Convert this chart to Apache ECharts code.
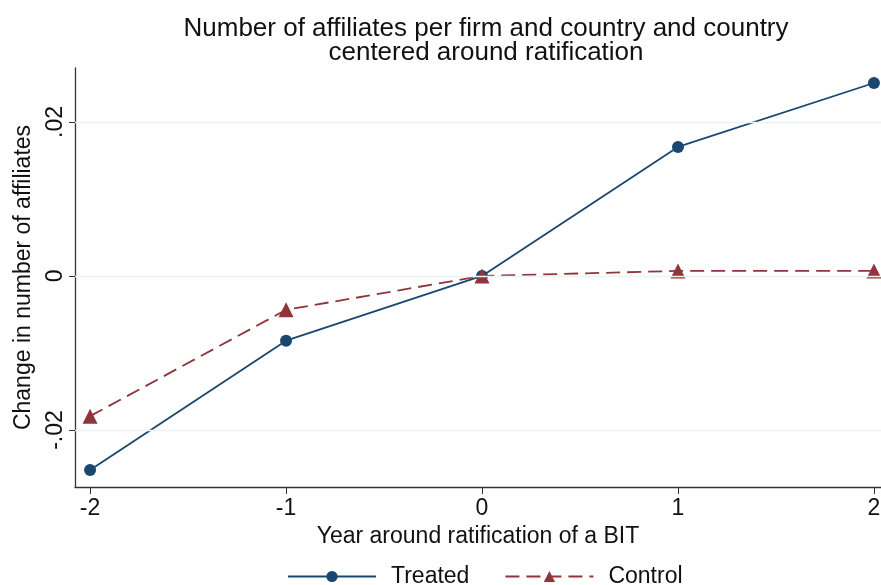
<!DOCTYPE html>
<html>
<head>
<meta charset="utf-8">
<script src="https://cdn.jsdelivr.net/npm/echarts@6/dist/echarts.min.js"></script>
<style>
  html, body { margin: 0; padding: 0; background: #fff; }
  #chart { width: 881px; height: 585px; }
</style>
</head>
<body>
<div id="chart"></div>
<script>
// years around ratification
const years = [-2, -1, 0, 1, 2]
const treated = [-0.0252, -0.0084, 0, 0.01675, 0.02505]
const control = [-0.0182, -0.0044, 0, 0.00065, 0.00065]
const yTicks = [-0.02, 0, 0.02]
const yTickLabels = { '-0.02': '-.02', '0': '0', '0.02': '.02' }

const font = '"Liberation Sans", Arial, sans-serif'
const axisColor = '#333'

const chart = echarts.init(document.getElementById('chart'))

chart.setOption({
  animation: false,
  textStyle: { fontFamily: font },
  title: {
    text: 'Number of affiliates per firm and country and country\ncentered around ratification',
    left: 481,
    textAlign: 'center',
    top: 12,
    textStyle: { fontSize: 26, fontWeight: 'normal', color: '#111', lineHeight: 24, fontFamily: font }
  },
  legend: {
    bottom: -8,
    left: 282,
    itemWidth: 88,
    itemHeight: 14,
    itemGap: 35,
    textStyle: { fontSize: 23, color: '#111', fontFamily: font, padding: [0, 0, 0, 10] },
    data: ['Treated', 'Control']
  },
  grid: { left: 75, right: 0, top: 68, bottom: 98, outerBoundsMode: 'none' },
  xAxis: {
    type: 'value',
    min: -2.077,
    max: 2.036,
    name: 'Year around ratification of a BIT',
    nameLocation: 'middle',
    nameGap: 35,
    nameTextStyle: { fontSize: 23, color: '#111' },
    axisLine: { onZero: false, lineStyle: { color: axisColor, width: 1.3 } },
    axisTick: { show: true, length: 7, customValues: years, lineStyle: { color: axisColor } },
    axisLabel: { customValues: years, fontSize: 23, color: '#111', margin: 10 },
    splitLine: { show: false }
  },
  yAxis: {
    type: 'value',
    min: -0.0274,
    max: 0.027,
    name: 'Change in number of affiliates',
    nameLocation: 'middle',
    nameGap: 40,
    nameTextStyle: { fontSize: 23, color: '#111' },
    axisLine: { show: true, onZero: false, lineStyle: { color: axisColor, width: 1.3 } },
    axisTick: { show: true, length: 6, customValues: yTicks, lineStyle: { color: axisColor } },
    axisLabel: {
      customValues: yTicks,
      fontSize: 23,
      color: '#111',
      rotate: 90,
      margin: 8,
      formatter: v => yTickLabels[String(Math.round(v * 100) / 100)] ?? v
    },
    splitLine: { show: false }
  },
  series: [
    {
      name: 'Treated',
      type: 'line',
      data: years.map((x, i) => [x, treated[i]]),
      symbol: 'circle',
      symbolSize: 12,
      lineStyle: { color: '#1a476f', width: 1.8 },
      itemStyle: { color: '#1a476f' },
      z: 3,
      markLine: {
        silent: true,
        symbol: 'none',
        label: { show: false },
        lineStyle: { color: '#eaf2f3', type: 'solid', width: 1.3 },
        data: yTicks.map(v => ({ yAxis: v }))
      }
    },
    {
      name: 'Control',
      type: 'line',
      data: years.map((x, i) => [x, control[i]]),
      symbol: 'triangle',
      symbolSize: 15,
      lineStyle: { color: '#90353b', width: 1.8, type: [14, 7] },
      itemStyle: { color: '#90353b' },
      z: 4
    }
  ]
})
</script>
</body>
</html>
